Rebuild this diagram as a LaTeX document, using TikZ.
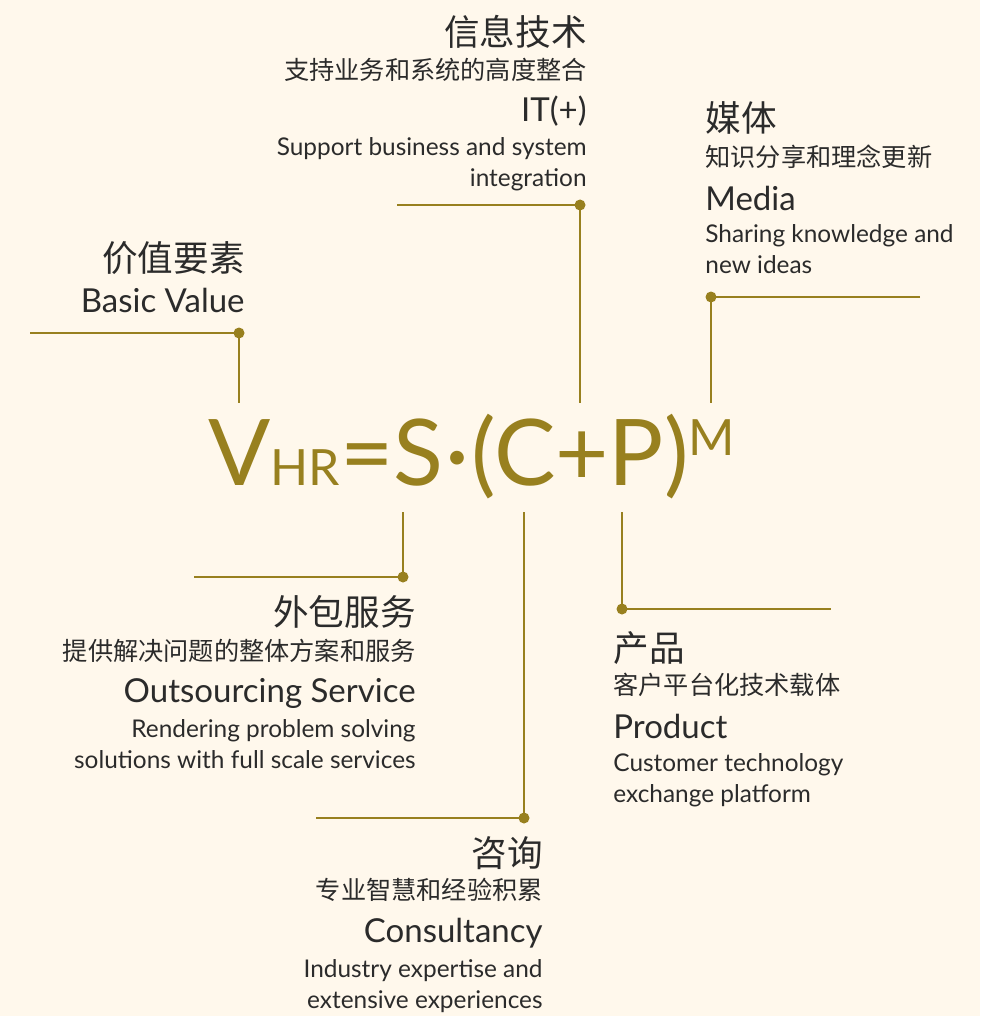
\documentclass[tikz,border=0pt]{standalone}
\usepackage{fontspec}
\setmainfont{Lato}
\newfontfamily\cjk{Noto Sans CJK SC}
\definecolor{gold}{HTML}{98801F}
\definecolor{ink}{HTML}{2B2B2B}
\definecolor{paper}{HTML}{FFF8EC}

\tikzset{
    link/.style={draw=gold, line width=1.1pt},
    knot/.style={circle, fill=gold, inner sep=0, minimum size=5.5pt},
    cnhead/.style={font=\cjk\fontsize{17.8}{17.8}\selectfont, text=ink, inner sep=0},
    cnsub/.style={font=\cjk\fontsize{12.6}{12.6}\selectfont, text=ink, inner sep=0},
    enhead/.style={font=\fontsize{16.5}{16.5}\selectfont, text=ink, inner sep=0},
    ennote/.style={font=\fontsize{12.2}{15.5}\selectfont, text=ink, inner sep=0}
}

\begin{document}
\begin{tikzpicture}[x=0.5pt, y=-0.5pt]

\fill[paper] (0, 0) rectangle (980, 1016);
\useasboundingbox (0, 0) rectangle (980, 1016);

% formula
\node[anchor=base west, inner sep=0, text=gold] (vhr) at (208, 485) {%
    {\fontsize{46}{46}\selectfont V}%
    {\fontsize{25}{25}\selectfont HR}%
    {\fontsize{46}{46}\selectfont =S\kern1pt·\kern1pt(C+P)}%
    \raisebox{15pt}{\fontsize{25}{25}\selectfont M}};

% IT
\coordinate (it-end) at (397, 205);
\node[knot] (it-dot) at (580, 205) {};
\coordinate (it-foot) at (580, 403);
\draw[link] (it-end) -- (it-dot.center) -- (it-foot);
\node[cnhead, anchor=east] (it-cn) at (587, 32) {信息技术};
\node[cnsub, anchor=east] (it-sub) at (587, 70) {支持业务和系统的高度整合};
\node[enhead, anchor=east] (it-en) at (587, 111) {IT(+)};
\node[ennote, anchor=north east, align=right] (it-note) at (587, 137) {Support business and system\\integration};

% Media
\node[knot] (media-dot) at (711, 297) {};
\coordinate (media-end) at (920, 297);
\coordinate (media-foot) at (711, 403);
\draw[link] (media-end) -- (media-dot.center) -- (media-foot);
\node[cnhead, anchor=west] (media-cn) at (705, 118) {媒体};
\node[cnsub, anchor=west] (media-sub) at (705, 157) {知识分享和理念更新};
\node[enhead, anchor=west] (media-en) at (705, 198) {Media};
\node[ennote, anchor=north west, align=left] (media-note) at (705, 224) {Sharing knowledge and\\new ideas};

% Basic value
\coordinate (value-end) at (30, 333);
\node[knot] (value-dot) at (239, 333) {};
\coordinate (value-foot) at (239, 403);
\draw[link] (value-end) -- (value-dot.center) -- (value-foot);
\node[cnhead, anchor=east] (value-cn) at (245, 258) {价值要素};
\node[enhead, anchor=east] (value-en) at (245, 300) {Basic Value};

% Outsourcing
\coordinate (out-top) at (403, 512);
\node[knot] (out-dot) at (403, 577) {};
\coordinate (out-end) at (194, 577);
\draw[link] (out-top) -- (out-dot.center) -- (out-end);
\node[cnhead, anchor=east] (out-cn) at (416, 612) {外包服务};
\node[cnsub, anchor=east] (out-sub) at (416, 651) {提供解决问题的整体方案和服务};
\node[enhead, anchor=east] (out-en) at (416, 693) {Outsourcing Service};
\node[ennote, anchor=north east, align=right] (out-note) at (416, 719) {Rendering problem solving\\solutions with full scale services};

% Consultancy
\coordinate (con-top) at (524, 512);
\node[knot] (con-dot) at (524, 818) {};
\coordinate (con-end) at (316, 818);
\draw[link] (con-top) -- (con-dot.center) -- (con-end);
\node[cnhead, anchor=east] (con-cn) at (543, 853) {咨询};
\node[cnsub, anchor=east] (con-sub) at (543, 890) {专业智慧和经验积累};
\node[enhead, anchor=east] (con-en) at (543, 933) {Consultancy};
\node[ennote, anchor=north east, align=right] (con-note) at (543, 959) {Industry expertise and\\extensive experiences};

% Product
\coordinate (prod-top) at (622, 512);
\node[knot] (prod-dot) at (622, 609) {};
\coordinate (prod-end) at (831, 609);
\draw[link] (prod-top) -- (prod-dot.center) -- (prod-end);
\node[cnhead, anchor=west] (prod-cn) at (613, 648) {产品};
\node[cnsub, anchor=west] (prod-sub) at (613, 685) {客户平台化技术载体};
\node[enhead, anchor=west] (prod-en) at (613, 726) {Product};
\node[ennote, anchor=north west, align=left] (prod-note) at (613, 753) {Customer technology\\exchange platform};

\end{tikzpicture}
\end{document}
